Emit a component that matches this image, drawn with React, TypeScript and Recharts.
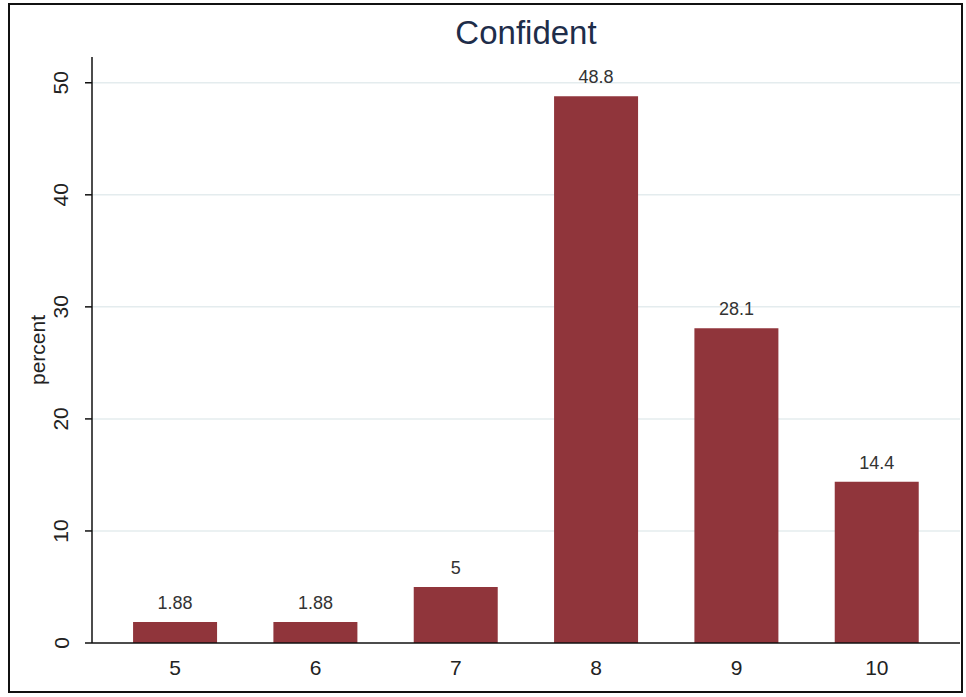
import React from 'react';
import { BarChart, Bar, XAxis, YAxis, CartesianGrid, LabelList } from 'recharts';

const categories = ['5', '6', '7', '8', '9', '10'];
const percents = [1.88, 1.88, 5, 48.8, 28.1, 14.4];
const yTicks = [0, 10, 20, 30, 40, 50];
const gridValues = [10, 20, 30, 40, 50];

const BAR_COLOR = '#90353b';
const TITLE_COLOR = '#1e2d4a';
const FONT = "'Liberation Sans', Arial, sans-serif";

const data = categories.map((c, i) => ({ name: c, value: percents[i] }));

const fmt = (v: number) => String(Number(v.toPrecision(3)));

// stata style rotated tick labels on the y axis
function YTick(props: any) {
  const { y, payload } = props;
  const x = 61;
  return (
    <text
      x={x}
      y={y}
      transform={`rotate(-90 ${x} ${y})`}
      textAnchor="middle"
      dominantBaseline="central"
      fontSize={21}
      fill="#222"
      fontFamily={FONT}
    >
      {payload.value}
    </text>
  );
}

function YLabel(props: any) {
  const { viewBox } = props;
  const x = 37;
  const y = viewBox.y + viewBox.height / 2;
  return (
    <text
      x={x}
      y={y}
      transform={`rotate(-90 ${x} ${y})`}
      textAnchor="middle"
      dominantBaseline="central"
      fontSize={21}
      fill="#222"
      fontFamily={FONT}
    >
      percent
    </text>
  );
}

export default function App() {
  return (
    <div style={{ position: 'fixed', left: 0, top: 0, width: 966, height: 697, background: '#fff' }}>
      <div
        style={{
          position: 'absolute',
          left: 8,
          top: 3,
          width: 951,
          height: 686,
          border: '2px solid #111',
        }}
      />
      <div
        style={{
          position: 'absolute',
          left: 92,
          width: 868,
          top: 13,
          textAlign: 'center',
          fontFamily: FONT,
          fontSize: 33,
          lineHeight: '40px',
          color: TITLE_COLOR,
        }}
      >
        Confident
      </div>
      <BarChart
        width={966}
        height={697}
        data={data}
        margin={{ top: 57, right: 6, bottom: 24, left: 0 }}
        barCategoryGap="20%"
        style={{ position: 'absolute', left: 0, top: 0 }}
      >
        <CartesianGrid vertical={false} horizontalValues={gridValues} stroke="#e4ecee" strokeWidth={1.5} />
        <XAxis
          dataKey="name"
          height={30}
          padding={{ left: 13, right: 13 }}
          axisLine={{ stroke: '#111', strokeWidth: 1.5 }}
          tickLine={false}
          tickSize={6}
          tickMargin={11}
          tick={{ fontSize: 21, fill: '#222', fontFamily: FONT }}
        />
        <YAxis
          width={92}
          domain={[0, 52.3]}
          ticks={yTicks}
          allowDataOverflow
          axisLine={{ stroke: '#111', strokeWidth: 1.5 }}
          tickLine={{ stroke: '#111', strokeWidth: 1.5 }}
          tickSize={7}
          tick={<YTick />}
          label={<YLabel />}
        />
        <Bar dataKey="value" fill={BAR_COLOR} isAnimationActive={false}>
          <LabelList
            dataKey="value"
            position="top"
            offset={13}
            formatter={(v: any) => fmt(Number(v))}
            style={{ fontSize: 18, fill: '#333', fontFamily: FONT }}
          />
        </Bar>
      </BarChart>
    </div>
  );
}
